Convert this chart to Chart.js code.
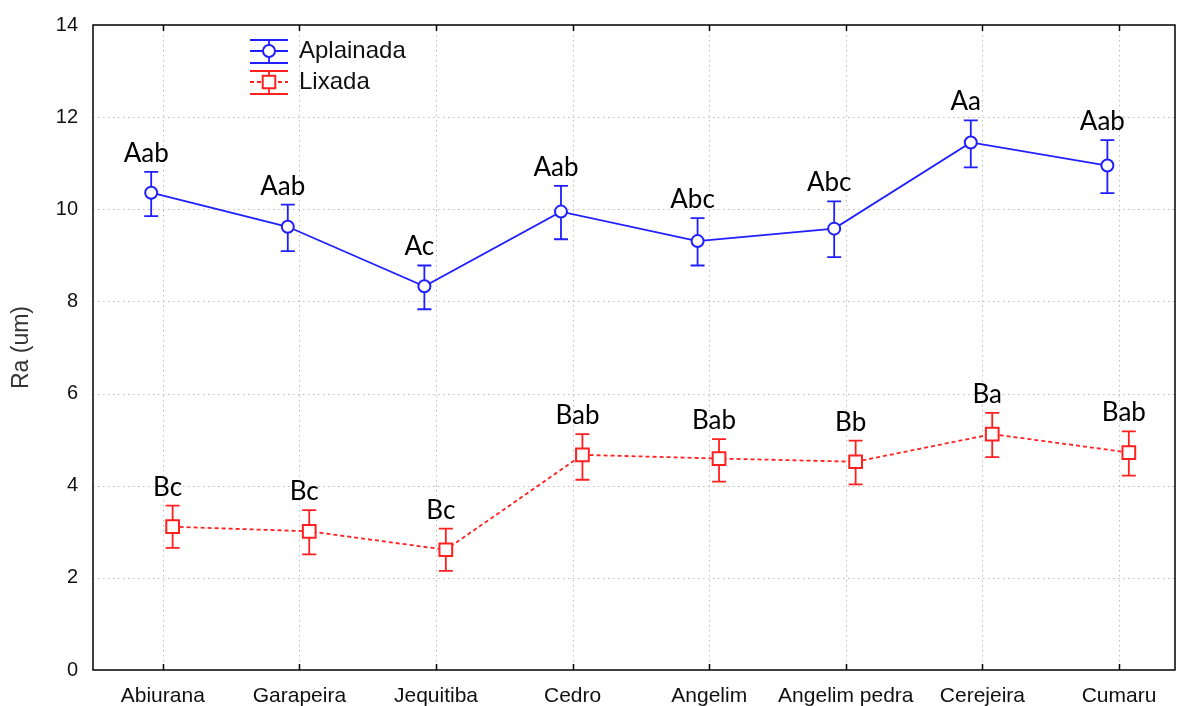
<!DOCTYPE html>
<html>
<head>
<meta charset="utf-8">
<script src="https://cdn.jsdelivr.net/npm/chart.js@4/dist/chart.umd.min.js"></script>
<style>
  html, body { margin: 0; padding: 0; background: #fff; }
  canvas { display: block; }
</style>
</head>
<body>
<canvas id="chart" width="1178" height="706"></canvas>
<script>
// Species on the x axis
const categories = ['Abiurana', 'Garapeira', 'Jequitiba', 'Cedro', 'Angelim', 'Angelim pedra', 'Cerejeira', 'Cumaru'];

// Planed surface: mean roughness and confidence limits
const aplainadaMean = [10.36, 9.62, 8.33, 9.95, 9.31, 9.58, 11.45, 10.95];
const aplainadaHigh = [10.81, 10.10, 8.78, 10.51, 9.81, 10.17, 11.93, 11.50];
const aplainadaLow  = [9.85, 9.09, 7.83, 9.35, 8.78, 8.96, 10.91, 10.35];
const aplainadaLetters = ['Aab', 'Aab', 'Ac', 'Aab', 'Abc', 'Abc', 'Aa', 'Aab'];

// Sanded surface: mean roughness and confidence limits
const lixadaMean = [3.11, 3.01, 2.61, 4.67, 4.59, 4.52, 5.12, 4.72];
const lixadaHigh = [3.57, 3.47, 3.07, 5.12, 5.01, 4.98, 5.58, 5.18];
const lixadaLow  = [2.65, 2.51, 2.15, 4.13, 4.09, 4.03, 4.62, 4.22];
const lixadaLetters = ['Bc', 'Bc', 'Bc', 'Bab', 'Bab', 'Bb', 'Ba', 'Bab'];

// Value axis ticks
const yTickValues = [0, 2, 4, 6, 8, 10, 12, 14];

const BLUE = '#1f1fff';
const RED = '#ff2020';
const DODGE_A = -0.085;
const DODGE_L = 0.072;

const toPoints = (vals, shift) => vals.map((v, i) => ({ x: i + shift, y: v }));

// Grid, frame and inner tick marks
const framePlugin = {
  id: 'frame',
  beforeDatasetsDraw(chart) {
    const { ctx, chartArea: a, scales: { x, y } } = chart;
    ctx.save();
    ctx.strokeStyle = '#bcbcbc';
    ctx.lineWidth = 1;
    ctx.setLineDash([1.5, 3.5]);
    yTickValues.forEach(v => {
      if (v === 0 || v === 14) return;
      const py = Math.round(y.getPixelForValue(v)) + 0.5;
      ctx.beginPath(); ctx.moveTo(a.left, py); ctx.lineTo(a.right, py); ctx.stroke();
    });
    categories.forEach((_, i) => {
      const px = Math.round(x.getPixelForValue(i)) + 0.5;
      ctx.beginPath(); ctx.moveTo(px, a.top); ctx.lineTo(px, a.bottom); ctx.stroke();
    });
    ctx.setLineDash([]);
    ctx.strokeStyle = '#000';
    ctx.lineWidth = 1.5;
    ctx.strokeRect(a.left, a.top, a.right - a.left, a.bottom - a.top);
    categories.forEach((_, i) => {
      const px = Math.round(x.getPixelForValue(i)) + 0.5;
      ctx.beginPath(); ctx.moveTo(px, a.bottom); ctx.lineTo(px, a.bottom - 6); ctx.stroke();
      ctx.beginPath(); ctx.moveTo(px, a.top); ctx.lineTo(px, a.top + 6); ctx.stroke();
    });
    ctx.restore();
  }
};

// Error bars behind the markers, letters above each bar
const errorBarPlugin = {
  id: 'errorBars',
  beforeDatasetsDraw(chart) {
    const { ctx, scales: { x, y } } = chart;
    ctx.save();
    chart.data.datasets.forEach(ds => {
      ctx.strokeStyle = ds.borderColor;
      ctx.lineWidth = 1.8;
      ds.data.forEach((p, i) => {
        const px = x.getPixelForValue(p.x);
        const hi = y.getPixelForValue(ds.high[i]);
        const lo = y.getPixelForValue(ds.low[i]);
        ctx.beginPath();
        ctx.moveTo(px, hi); ctx.lineTo(px, lo);
        ctx.moveTo(px - 7, hi); ctx.lineTo(px + 7, hi);
        ctx.moveTo(px - 7, lo); ctx.lineTo(px + 7, lo);
        ctx.stroke();
      });
    });
    ctx.restore();
  },
  afterDatasetsDraw(chart) {
    const { ctx, scales: { x, y } } = chart;
    ctx.save();
    ctx.fillStyle = '#000';
    ctx.font = '26px Lato, "Open Sans", sans-serif';
    ctx.textAlign = 'center';
    ctx.textBaseline = 'alphabetic';
    chart.data.datasets.forEach(ds => {
      ds.data.forEach((p, i) => {
        const px = x.getPixelForValue(p.x);
        const hi = y.getPixelForValue(ds.high[i]);
        ctx.fillText(ds.letters[i], px - 5, hi - 10);
      });
    });
    ctx.restore();
  }
};

// Legend with error-bar style keys
const legendPlugin = {
  id: 'keyLegend',
  afterDraw(chart) {
    const { ctx } = chart;
    const rows = [
      { ds: chart.data.datasets[0], top: 40, mid: 51, bottom: 63, dash: [] },
      { ds: chart.data.datasets[1], top: 71, mid: 82, bottom: 94, dash: [4, 3] }
    ];
    const x0 = 250, x1 = 288, xc = 269;
    ctx.save();
    rows.forEach(r => {
      ctx.strokeStyle = r.ds.borderColor;
      ctx.lineWidth = 1.8;
      ctx.setLineDash([]);
      ctx.beginPath();
      ctx.moveTo(x0, r.top); ctx.lineTo(x1, r.top);
      ctx.moveTo(x0, r.bottom); ctx.lineTo(x1, r.bottom);
      ctx.moveTo(xc, r.top); ctx.lineTo(xc, r.bottom);
      ctx.stroke();
      ctx.setLineDash(r.dash);
      ctx.beginPath();
      ctx.moveTo(x0, r.mid); ctx.lineTo(x1, r.mid);
      ctx.stroke();
      ctx.setLineDash([]);
      ctx.fillStyle = '#fff';
      ctx.lineWidth = 2;
      ctx.beginPath();
      if (r.ds.pointStyle === 'circle') {
        ctx.arc(xc, r.mid, 6, 0, Math.PI * 2);
      } else {
        ctx.rect(xc - 6.3, r.mid - 6.3, 12.6, 12.6);
      }
      ctx.fill(); ctx.stroke();
      ctx.fillStyle = '#111';
      ctx.font = '24px "Liberation Sans", Arial, sans-serif';
      ctx.textAlign = 'left';
      ctx.textBaseline = 'middle';
      ctx.fillText(r.ds.label, 299, r.mid);
    });
    ctx.restore();
  }
};

new Chart(document.getElementById('chart'), {
  type: 'line',
  data: {
    datasets: [
      {
        label: 'Aplainada',
        data: toPoints(aplainadaMean, DODGE_A),
        high: aplainadaHigh,
        low: aplainadaLow,
        letters: aplainadaLetters,
        borderColor: BLUE,
        borderWidth: 1.8,
        pointStyle: 'circle',
        pointRadius: 6,
        pointBorderWidth: 2,
        pointBackgroundColor: '#fff',
        pointBorderColor: BLUE,
        tension: 0
      },
      {
        label: 'Lixada',
        data: toPoints(lixadaMean, DODGE_L),
        high: lixadaHigh,
        low: lixadaLow,
        letters: lixadaLetters,
        borderColor: RED,
        borderWidth: 1.8,
        borderDash: [4, 3],
        pointStyle: 'rect',
        pointRadius: 9,
        pointBorderWidth: 2,
        pointBackgroundColor: '#fff',
        pointBorderColor: RED,
        tension: 0
      }
    ]
  },
  options: {
    responsive: false,
    animation: false,
    events: [],
    layout: { autoPadding: false, padding: { top: 25, right: 3, left: 0, bottom: 0 } },
    plugins: { legend: { display: false }, tooltip: { enabled: false } },
    scales: {
      x: {
        type: 'linear',
        min: -0.511,
        max: 7.41,
        afterBuildTicks: s => { s.ticks = categories.map((_, i) => ({ value: i })); },
        afterFit: s => { s.height = 36; s.paddingLeft = 0; s.paddingRight = 0; },
        grid: { display: false, drawTicks: false },
        border: { display: false },
        ticks: {
          autoSkip: false,
          maxRotation: 0,
          padding: 14,
          color: '#111',
          font: { family: '"Liberation Sans", Arial, sans-serif', size: 21 },
          callback: v => categories[v]
        }
      },
      y: {
        min: 0,
        max: 14,
        afterBuildTicks: s => { s.ticks = yTickValues.map(v => ({ value: v })); },
        afterFit: s => { s.width = 93; s.paddingTop = 0; s.paddingBottom = 0; },
        grid: { display: false, drawTicks: false },
        border: { display: false },
        ticks: {
          padding: 15,
          color: '#111',
          font: { family: '"Liberation Sans", Arial, sans-serif', size: 20 }
        },
        title: {
          display: true,
          text: 'Ra (um)',
          color: '#333',
          padding: { top: 8, bottom: 0 },
          font: { family: '"Liberation Sans", Arial, sans-serif', size: 23 }
        }
      }
    }
  },
  plugins: [framePlugin, errorBarPlugin, legendPlugin]
});
</script>
</body>
</html>
